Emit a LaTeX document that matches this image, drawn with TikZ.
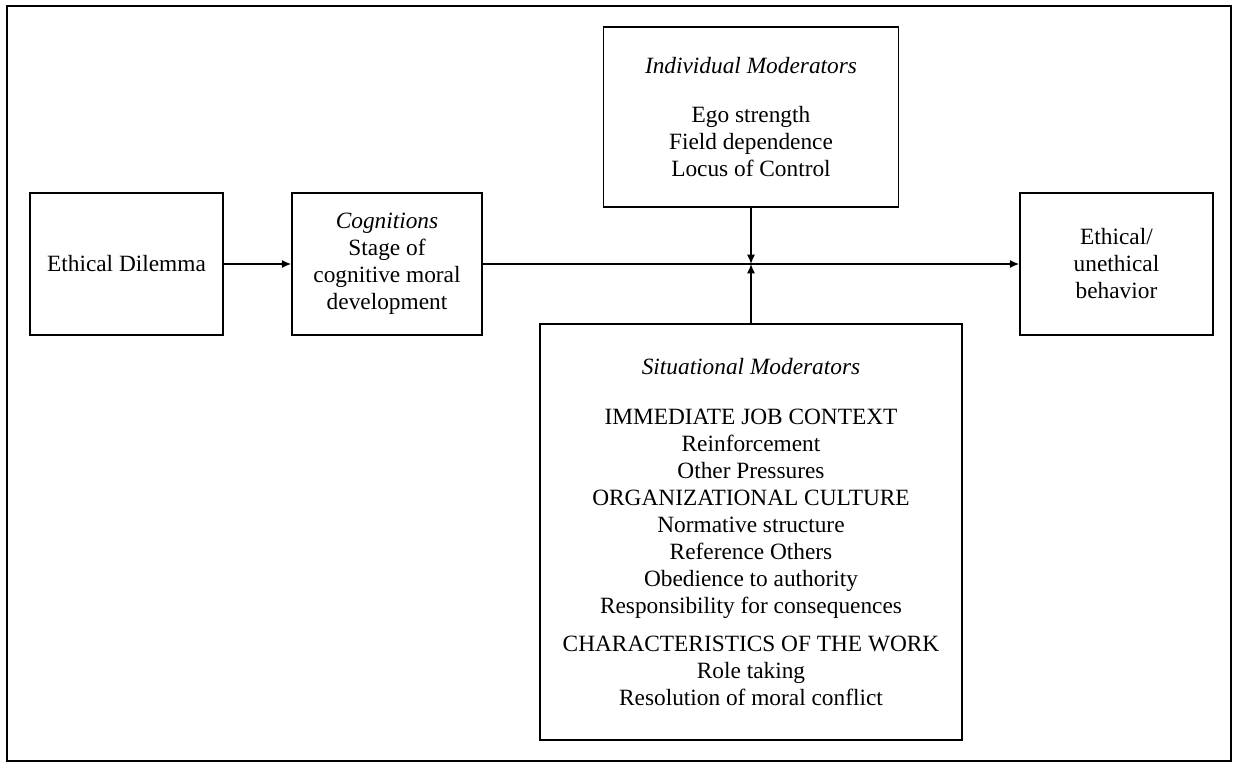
\documentclass[tikz,border=0pt]{standalone}
\usepackage{fontspec}
\setmainfont{Liberation Serif}
\usetikzlibrary{positioning}
\usetikzlibrary{shapes,arrows.meta}

\tikzset{
  box/.style={draw, line width=1.1pt, inner sep=0pt, align=center,
    font=\fontsize{17.5}{20.25}\selectfont},
  link/.style={line width=1.1pt, -{Latex[length=7pt,width=6pt]}}
}

\begin{document}
\begin{tikzpicture}[x=0.75pt, y=-0.75pt]
  \useasboundingbox (0,0) rectangle (1233,763);
  \draw[line width=1.3pt] (7,6) rectangle (1231,761);

  \node(dilemma) [box, minimum width=144.75pt, minimum height=106.5pt] at (126.5,264) {Ethical Dilemma};
  \node(cognitions) [box, minimum width=142.5pt, minimum height=106.5pt] at (387,264)
    {\textit{Cognitions}\\Stage of\\cognitive moral\\development};
  \node(behavior) [box, minimum width=144.75pt, minimum height=106.5pt] at (1116.5,264)
    {Ethical/\\unethical\\behavior};
  \node(individual) [box, minimum width=221.25pt, minimum height=135pt] at (751,117)
    {\textit{Individual Moderators}\\[17pt]Ego strength\\Field dependence\\Locus of Control};
  \node(situational) [box, minimum width=316.5pt, minimum height=312pt] at (751,532)
    {\textit{Situational Moderators}\\[17pt]
     IMMEDIATE JOB CONTEXT\\Reinforcement\\Other Pressures\\
     ORGANIZATIONAL CULTURE\\Normative structure\\Reference Others\\
     Obedience to authority\\Responsibility for consequences\\[8pt]
     CHARACTERISTICS OF THE WORK\\Role taking\\Resolution of moral conflict};
  \coordinate(meet) at (751,264);

  \draw[link] (dilemma) -- (cognitions);
  \draw[link] (cognitions) -- (behavior);
  \draw[link] (individual) -- (meet);
  \draw[link] (situational) -- (meet);
\end{tikzpicture}
\end{document}
